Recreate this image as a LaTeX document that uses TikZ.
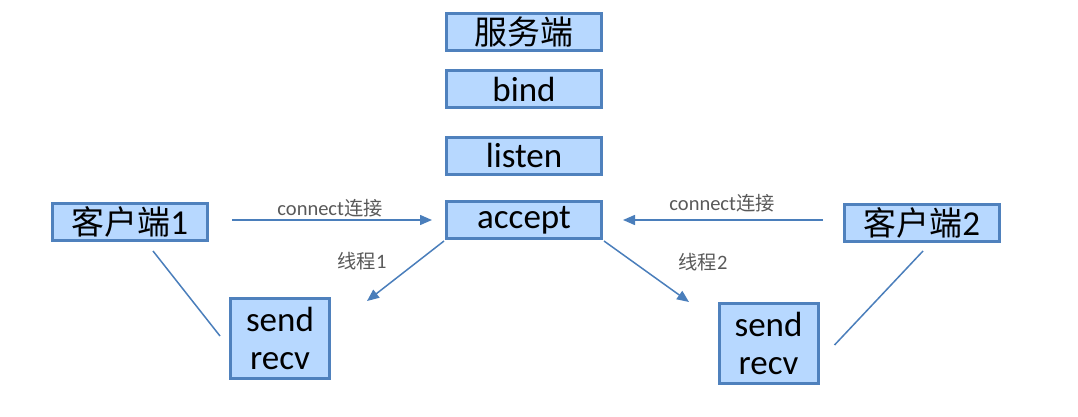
\documentclass[tikz,border=0pt]{standalone}
\usepackage{fontspec}
\setmainfont{Carlito}
\newfontfamily\cjk{Noto Sans CJK SC}[Scale=0.94]
\usetikzlibrary{arrows.meta}
\definecolor{bord}{RGB}{79,129,189}
\definecolor{boxfill}{RGB}{183,216,255}
\definecolor{lineblue}{RGB}{74,126,187}
\definecolor{lblgray}{RGB}{89,89,89}
\tikzset{
  box/.style={draw=bord, line width=3pt, fill=boxfill, inner sep=0pt,
    minimum width=155pt, minimum height=37pt, font=\fontsize{35}{38}\selectfont, text=black},
  sbox/.style={box, minimum width=99pt, minimum height=80pt, align=center},
  conn/.style={draw=lineblue, line width=1.5pt, -{Triangle[length=12pt,width=10pt]}},
  plain/.style={draw=lineblue, line width=1.5pt},
  lbl/.style={font=\fontsize{20.5}{22}\selectfont, text=lblgray, inner sep=0pt}
}
\begin{document}
\begin{tikzpicture}[x=1pt,y=-1pt]
\useasboundingbox (0,0) rectangle (1078,417);
\node[box] (srv) at (524,32.5) {\cjk 服务端};
\node[box] (bind) at (524,89.5) {bind};
\node[box] (lis) at (524,155.5) {listen};
\node[box] (acc) at (524,220) {accept};
\node[box] (c1) at (130,222) {{\cjk 客户端}1};
\node[box] (c2) at (922,223) {{\cjk 客户端}2};
\node[sbox] (s1) at (280,338.5) {send\\recv};
\node[sbox] (s2) at (768.5,343.5) {send\\recv};
\coordinate (t1) at (367,301);
\coordinate (t2) at (689,302);
\draw[conn, shorten <=23pt, shorten >=13pt] (c1.east |- acc.west) -- (acc.west);
\draw[conn, shorten <=20pt, shorten >=20pt] (c2.west |- acc.east) -- (acc.east);
\draw[conn] ([shift={(-1,1)}]acc.south west) -- (t1);
\draw[conn] ([shift={(1,1)}]acc.south east) -- (t2);
\draw[plain] ([shift={(23,9)}]c1.south) -- ([shift={(-9,-2.5)}]s1.west);
\draw[plain] ([shift={(1,8)}]c2.south) -- ([shift={(15,1.5)}]s2.east);
\node[lbl] (l1) at (330,208) {connect{\cjk 连接}};
\node[lbl] (l2) at (722,203) {connect{\cjk 连接}};
\node[lbl] (l3) at (362,261) {{\cjk 线程}1};
\node[lbl] (l4) at (703,262) {{\cjk 线程}2};
\end{tikzpicture}
\end{document}
